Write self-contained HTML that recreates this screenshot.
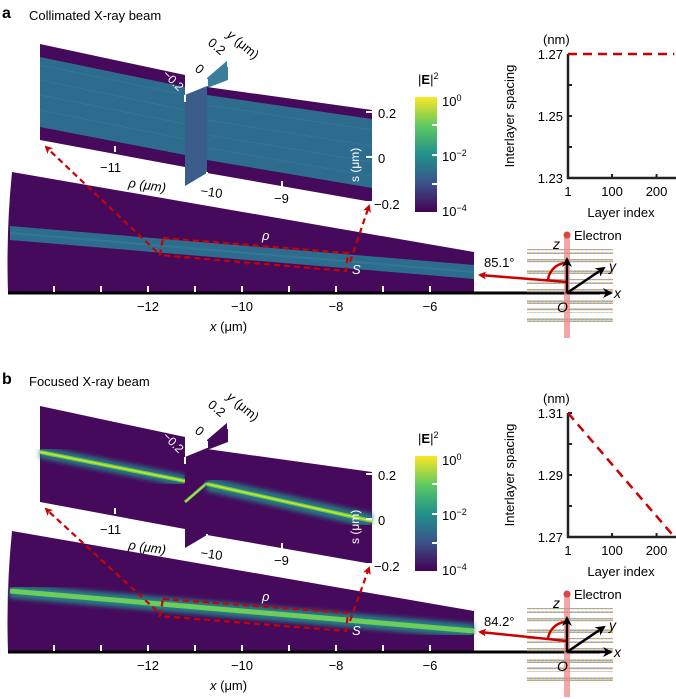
<!DOCTYPE html>
<html><head><meta charset="utf-8"><style>
html,body{margin:0;padding:0;background:#fff;}
svg{display:block;font-family:"Liberation Sans",Arial,sans-serif;}
</style></head><body>
<svg id="fig" width="676" height="699" viewBox="0 0 676 699">
<defs>
<linearGradient id="vir" x1="0" y1="1" x2="0" y2="0">
<stop offset="0" stop-color="#440154"/><stop offset="0.25" stop-color="#3b528b"/><stop offset="0.5" stop-color="#21918c"/><stop offset="0.75" stop-color="#5ec962"/><stop offset="1" stop-color="#fde725"/>
</linearGradient>
<pattern id="layers" x="0" y="0" width="4" height="6" patternUnits="userSpaceOnUse">
<circle cx="1" cy="1.2" r="1" fill="#e0a040"/><circle cx="3" cy="1.2" r="1" fill="#6fa8d8"/><circle cx="2" cy="3.4" r="1" fill="#6fa8d8"/><circle cx="0" cy="3.4" r="1" fill="#e0a040"/><circle cx="4" cy="3.4" r="1" fill="#e0a040"/>
</pattern>
<marker id="ra" markerWidth="8" markerHeight="8" refX="6" refY="4" orient="auto" markerUnits="userSpaceOnUse"><path d="M0,0 L8,4 L0,8 L2,4 Z" fill="#c00"/></marker>
<marker id="ka" markerWidth="10" markerHeight="10" refX="8" refY="5" orient="auto" markerUnits="userSpaceOnUse"><path d="M0,0 L10,5 L0,10 L3,5 Z" fill="#000"/></marker>
<filter id="blur2"><feGaussianBlur stdDeviation="2.5"/></filter>
</defs>

<text x="2" y="18" font-size="16" font-weight="bold">a</text>
<text x="29" y="20" font-size="13">Collimated X-ray beam</text>
<text x="2" y="384" font-size="16" font-weight="bold">b</text>
<text x="29" y="386" font-size="13">Focused X-ray beam</text>

<!-- PANEL A -->
<g id="pa">
 <g>
  <polygon points="40,44 185,75 185,167 40,140" fill="#450a5c"/>
  <polygon points="40,57 185,87 185,155 40,127" fill="#2e6c8e"/>
  <g stroke="#3a7fa0" stroke-width="1" opacity="0.5"><line x1="40" y1="65" x2="185" y2="95"/><line x1="40" y1="80" x2="185" y2="110"/><line x1="40" y1="95" x2="185" y2="124"/><line x1="40" y1="110" x2="185" y2="139"/></g>
  <polygon points="185,95 207,86 207,173 185,186" fill="#3a5d8c"/>
  <polygon points="207,78 228,60 228,80 207,88" fill="#3a7e9c"/>
  <polygon points="207,87 372,110 372,202 207,173" fill="#450a5c"/>
  <polygon points="207,95 372,119 372,188 207,160" fill="#2e6c8e"/>
  <g stroke="#3a7fa0" stroke-width="1" opacity="0.5"><line x1="207" y1="105" x2="372" y2="130"/><line x1="207" y1="120" x2="372" y2="146"/><line x1="207" y1="135" x2="372" y2="162"/><line x1="207" y1="148" x2="372" y2="176"/></g>
  <g stroke="#fff" stroke-width="2"><line x1="115" y1="146" x2="115" y2="152"/><line x1="207" y1="172" x2="207" y2="180"/><line x1="282" y1="181" x2="282" y2="188"/><line x1="366" y1="112" x2="372" y2="112"/><line x1="366" y1="157" x2="372" y2="157"/><line x1="366" y1="202" x2="372" y2="202"/><line x1="185" y1="95" x2="185" y2="102"/><line x1="207" y1="79" x2="207" y2="86"/><line x1="228" y1="60" x2="228" y2="67"/></g>
  <text x="100" y="172" font-size="13">−11</text>
  <text x="200" y="195" font-size="13" transform="rotate(8 200 195)">−10</text>
  <text x="274" y="203" font-size="13">−9</text>
  <text x="128" y="187" font-size="13" font-style="italic" transform="rotate(8 128 187)">ρ (μm)</text>
  <text x="378" y="118" font-size="13">0.2</text>
  <text x="378" y="163" font-size="13">0</text>
  <text x="374" y="209" font-size="13">−0.2</text>
  <text x="359" y="182" font-size="12" fill="#fff" transform="rotate(-90 359 182)">s (μm)</text>
  <text x="226" y="36" font-size="13" transform="rotate(40 226 36)"><tspan font-style="italic">y</tspan> (μm)</text>
  <text x="207" y="44" font-size="13" transform="rotate(40 207 44)">0.2</text>
  <text x="194" y="70" font-size="13" transform="rotate(40 194 70)">0</text>
  <text x="162" y="75" font-size="12" fill="#fff" transform="rotate(45 162 75)">−0.2</text>
 </g>
 <g>
  <text x="418" y="84" font-size="13">|<tspan font-weight="bold">E</tspan>|<tspan font-size="9" dy="-5">2</tspan></text>
  <rect x="415" y="97" width="22" height="115" fill="url(#vir)"/>
  <g stroke="#fff" stroke-width="2"><line x1="432" y1="125" x2="437" y2="125"/><line x1="432" y1="155" x2="437" y2="155"/><line x1="432" y1="184" x2="437" y2="184"/></g>
  <text x="442" y="106" font-size="13">10<tspan font-size="9" dy="-5">0</tspan></text>
  <text x="442" y="161" font-size="13">10<tspan font-size="9" dy="-5">−2</tspan></text>
  <text x="442" y="216" font-size="13">10<tspan font-size="9" dy="-5">−4</tspan></text>
 </g>
 <g>
  <path d="M12,172 L474,252 L474,293 L8,293 Q6,232 12,172 Z" fill="#450a5c"/>
  <polygon points="10,226 474,265 474,279 10,240" fill="#2e6c8e"/>
  <line x1="10" y1="233" x2="474" y2="272" stroke="#3a8aa2" stroke-width="2" opacity="0.4"/>
  <line x1="8" y1="293" x2="600" y2="293" stroke="#000" stroke-width="3"/>
  <g id="xticks-a"></g>
  <text x="210" y="331" font-size="13"><tspan font-style="italic">x</tspan> (μm)</text>
 </g>
 <g stroke="#c00" stroke-width="2.2" stroke-dasharray="6,4" fill="none">
  <polygon points="163,238 348,253 346,271 160,255"/>
  <line x1="157" y1="252" x2="46" y2="147" marker-end="url(#ra)"/>
  <line x1="350" y1="262" x2="369" y2="206" marker-end="url(#ra)"/>
 </g>
 <text x="262" y="240" font-size="13" font-style="italic" fill="#fff">ρ</text>
 <text x="352" y="274" font-size="13" font-style="italic" fill="#fff">S</text>
 <g>
  <g fill="url(#layers)"><rect x="527" y="249" width="86" height="5"/><rect x="527" y="259" width="86" height="5"/><rect x="527" y="269" width="86" height="5"/><rect x="527" y="279" width="86" height="5"/><rect x="527" y="289" width="86" height="5"/><rect x="527" y="299" width="86" height="5"/><rect x="527" y="308" width="86" height="5"/><rect x="527" y="317" width="86" height="5"/></g>
  <rect x="564" y="236" width="6" height="102" fill="#e88" opacity="0.75"/>
  <circle cx="567" cy="235" r="3.5" fill="#d44"/>
  <text x="574" y="240" font-size="13">Electron</text>
  <line x1="567" y1="282" x2="480" y2="275" stroke="#c00" stroke-width="2.5" marker-end="url(#ra)"/>
  <path d="M548,280 A19,19 0 0 1 565,263" stroke="#c00" stroke-width="2.5" fill="none"/>
  <text x="484" y="267" font-size="13">85.1°</text>
  <g stroke="#000" stroke-width="2.5"><line x1="567" y1="293" x2="567" y2="259" marker-end="url(#ka)"/><line x1="567" y1="293" x2="604" y2="268" marker-end="url(#ka)"/><line x1="567" y1="293" x2="611" y2="293" marker-end="url(#ka)"/></g>
  <text x="553" y="249" font-size="14" font-style="italic">z</text>
  <text x="609" y="271" font-size="14" font-style="italic">y</text>
  <text x="614" y="298" font-size="14" font-style="italic">x</text>
  <text x="557" y="312" font-size="14" font-style="italic">O</text>
 </g>
 <g id="inset-a"></g>
</g>

<!-- PANEL B -->
<g id="pb" transform="translate(0,359)">
 <g>
  <polygon points="40,47 185,78 185,170 40,143" fill="#450a5c"/>
  <line x1="40" y1="93" x2="185" y2="122" stroke="#21918c" stroke-width="12" opacity="0.8" filter="url(#blur2)"/>
  <line x1="40" y1="93" x2="185" y2="122" stroke="#5ec962" stroke-width="4"/>
  <line x1="40" y1="93" x2="185" y2="122" stroke="#d8e219" stroke-width="1.5"/>
  <polygon points="185,98 207,89 207,176 185,189" fill="#450a5c"/>
  <line x1="185" y1="143" x2="207" y2="124" stroke="#5ec962" stroke-width="3"/>
  <line x1="185" y1="143" x2="207" y2="124" stroke="#d8e219" stroke-width="1"/>
  <polygon points="207,81 228,63 228,83 207,91" fill="#450a5c"/>
  <polygon points="207,90 372,113 372,205 207,176" fill="#450a5c"/>
  <line x1="207" y1="125" x2="372" y2="162" stroke="#21918c" stroke-width="14" opacity="0.8" filter="url(#blur2)"/>
  <line x1="207" y1="125" x2="372" y2="162" stroke="#5ec962" stroke-width="4"/>
  <line x1="207" y1="125" x2="372" y2="162" stroke="#d8e219" stroke-width="1.5"/>
  <g stroke="#fff" stroke-width="2"><line x1="115" y1="149" x2="115" y2="155"/><line x1="207" y1="175" x2="207" y2="183"/><line x1="282" y1="184" x2="282" y2="191"/><line x1="366" y1="115" x2="372" y2="115"/><line x1="366" y1="160" x2="372" y2="160"/><line x1="366" y1="205" x2="372" y2="205"/><line x1="185" y1="98" x2="185" y2="105"/><line x1="207" y1="82" x2="207" y2="89"/><line x1="228" y1="63" x2="228" y2="70"/></g>
  <text x="100" y="175" font-size="13">−11</text>
  <text x="200" y="198" font-size="13" transform="rotate(8 200 198)">−10</text>
  <text x="274" y="206" font-size="13">−9</text>
  <text x="128" y="190" font-size="13" font-style="italic" transform="rotate(8 128 190)">ρ (μm)</text>
  <text x="378" y="121" font-size="13">0.2</text>
  <text x="378" y="166" font-size="13">0</text>
  <text x="374" y="212" font-size="13">−0.2</text>
  <text x="359" y="185" font-size="12" fill="#fff" transform="rotate(-90 359 185)">s (μm)</text>
  <text x="226" y="39" font-size="13" transform="rotate(40 226 39)"><tspan font-style="italic">y</tspan> (μm)</text>
  <text x="207" y="47" font-size="13" transform="rotate(40 207 47)">0.2</text>
  <text x="194" y="73" font-size="13" transform="rotate(40 194 73)">0</text>
  <text x="162" y="78" font-size="12" fill="#fff" transform="rotate(45 162 78)">−0.2</text>
 </g>
 <g>
  <text x="418" y="84" font-size="13">|<tspan font-weight="bold">E</tspan>|<tspan font-size="9" dy="-5">2</tspan></text>
  <rect x="415" y="97" width="22" height="115" fill="url(#vir)"/>
  <g stroke="#fff" stroke-width="2"><line x1="432" y1="125" x2="437" y2="125"/><line x1="432" y1="155" x2="437" y2="155"/><line x1="432" y1="184" x2="437" y2="184"/></g>
  <text x="442" y="106" font-size="13">10<tspan font-size="9" dy="-5">0</tspan></text>
  <text x="442" y="161" font-size="13">10<tspan font-size="9" dy="-5">−2</tspan></text>
  <text x="442" y="216" font-size="13">10<tspan font-size="9" dy="-5">−4</tspan></text>
 </g>
 <g>
  <path d="M12,172 L474,252 L474,293 L8,293 Q6,232 12,172 Z" fill="#450a5c"/>
  <line x1="10" y1="232" x2="474" y2="272" stroke="#21918c" stroke-width="14" opacity="0.85" filter="url(#blur2)"/>
  <line x1="10" y1="232" x2="474" y2="272" stroke="#6ccd5a" stroke-width="5"/>
  <line x1="8" y1="293" x2="600" y2="293" stroke="#000" stroke-width="3"/>
  <g id="xticks-b"></g>
  <text x="210" y="331" font-size="13"><tspan font-style="italic">x</tspan> (μm)</text>
 </g>
 <g stroke="#c00" stroke-width="2.2" stroke-dasharray="6,4" fill="none">
  <polygon points="163,240 348,254 346,272 160,257"/>
  <line x1="157" y1="252" x2="46" y2="150" marker-end="url(#ra)"/>
  <line x1="350" y1="262" x2="369" y2="209" marker-end="url(#ra)"/>
 </g>
 <text x="262" y="242" font-size="13" font-style="italic" fill="#fff">ρ</text>
 <text x="352" y="276" font-size="13" font-style="italic" fill="#fff">S</text>
 <g>
  <g fill="url(#layers)"><rect x="527" y="249" width="86" height="5"/><rect x="527" y="259" width="86" height="5"/><rect x="527" y="269" width="86" height="5"/><rect x="527" y="279" width="86" height="5"/><rect x="527" y="289" width="86" height="5"/><rect x="527" y="299" width="86" height="5"/><rect x="527" y="308" width="86" height="5"/><rect x="527" y="317" width="86" height="5"/></g>
  <rect x="564" y="236" width="6" height="102" fill="#e88" opacity="0.75"/>
  <circle cx="567" cy="235" r="3.5" fill="#d44"/>
  <text x="574" y="240" font-size="13">Electron</text>
  <line x1="567" y1="282" x2="480" y2="273" stroke="#c00" stroke-width="2.5" marker-end="url(#ra)"/>
  <path d="M548,280 A19,19 0 0 1 565,263" stroke="#c00" stroke-width="2.5" fill="none"/>
  <text x="484" y="267" font-size="13">84.2°</text>
  <g stroke="#000" stroke-width="2.5"><line x1="567" y1="293" x2="567" y2="259" marker-end="url(#ka)"/><line x1="567" y1="293" x2="604" y2="268" marker-end="url(#ka)"/><line x1="567" y1="293" x2="611" y2="293" marker-end="url(#ka)"/></g>
  <text x="553" y="249" font-size="14" font-style="italic">z</text>
  <text x="609" y="271" font-size="14" font-style="italic">y</text>
  <text x="614" y="298" font-size="14" font-style="italic">x</text>
  <text x="557" y="312" font-size="14" font-style="italic">O</text>
 </g>
 <g id="inset-b"></g>
</g>
</svg>
<script>
// Data
const xAxisTicksUm = [-14,-13,-12,-11,-10,-9,-8,-7,-6];
const xAxisLabelsUm = [-12,-10,-8,-6];
const layerIdx = [1, 240];
const spacingA = [1.27, 1.27];
const spacingB = [1.31, 1.27];
const insetXTicks = [1, 100, 200];
const insetYTicksA = [1.23, 1.24, 1.25, 1.26, 1.27];
const insetYLabelsA = [1.23, 1.25, 1.27];
const insetYTicksB = [1.27, 1.28, 1.29, 1.30, 1.31];
const insetYLabelsB = [1.27, 1.29, 1.31];

const NS = "http://www.w3.org/2000/svg";
function mk(tag, attrs, parent){const e=document.createElementNS(NS,tag);for(const k in attrs)e.setAttribute(k,attrs[k]);parent.appendChild(e);return e;}
const xum = v => 148 + (v + 12) * 47;

function axisTicks(g){
  xAxisTicksUm.forEach(v=>{
    const t=mk('line',{x1:xum(v),y1:286,x2:xum(v),y2:292,stroke:'#fff','stroke-width':2},g);
    
    
  });
  xAxisLabelsUm.forEach(v=>{
    const t=mk('text',{x:xum(v),y:311,'font-size':13,'text-anchor':'middle'},g);
    t.textContent='−'+Math.abs(v);
    
    
  });
}
axisTicks(document.getElementById('xticks-a'));
axisTicks(document.getElementById('xticks-b'));

function inset(g, vals, ticks, labels){
  const x0=568, y0=178, y1=54;
  const lo=labels[0], hi=labels[labels.length-1];
  const xs = v => x0 + (v-1)*0.445;
  const ys = v => y0 - (v-lo)/(hi-lo)*(y0-y1);
  const ax=mk('path',{d:`M${x0},${y1} L${x0},${y0} L676,${y0}`,stroke:'#222','stroke-width':2.5,fill:'none'},g);
  
  
  ticks.forEach(v=>{
    const t=mk('line',{x1:x0,y1:ys(v),x2:x0+4,y2:ys(v),stroke:'#222','stroke-width':2},g);
    
    
  });
  labels.forEach(v=>{
    const t=mk('text',{x:x0-5,y:ys(v)+5,'font-size':13,'text-anchor':'end'},g);
    t.textContent=v.toFixed(2);
    
    
  });
  insetXTicks.forEach(v=>{
    if(v>1){const t=mk('line',{x1:xs(v),y1:y0,x2:xs(v),y2:y0-4,stroke:'#222','stroke-width':2},g);
    
    }
    const l=mk('text',{x:xs(v),y:y0+18,'font-size':13,'text-anchor':'middle'},g);
    l.textContent=String(v);
    
    
  });
  const ln=mk('line',{x1:xs(layerIdx[0]),y1:ys(vals[0]),x2:xs(layerIdx[1]),y2:ys(vals[1]),stroke:'#c00','stroke-width':2.5,'stroke-dasharray':'9,6'},g);
  
  
  const u=mk('text',{x:543,y:44,'font-size':13},g); u.textContent='(nm)';
  
  
  const xl=mk('text',{x:621,y:217,'font-size':13,'text-anchor':'middle'},g); xl.textContent='Layer index';
  
  
  const yl=mk('text',{x:514,y:116,'font-size':13,'text-anchor':'middle',transform:'rotate(-90 514 116)'},g); yl.textContent='Interlayer spacing';
  
  
}
inset(document.getElementById('inset-a'), spacingA, insetYTicksA, insetYLabelsA);
inset(document.getElementById('inset-b'), spacingB, insetYTicksB, insetYLabelsB);
</script>
</body></html>
